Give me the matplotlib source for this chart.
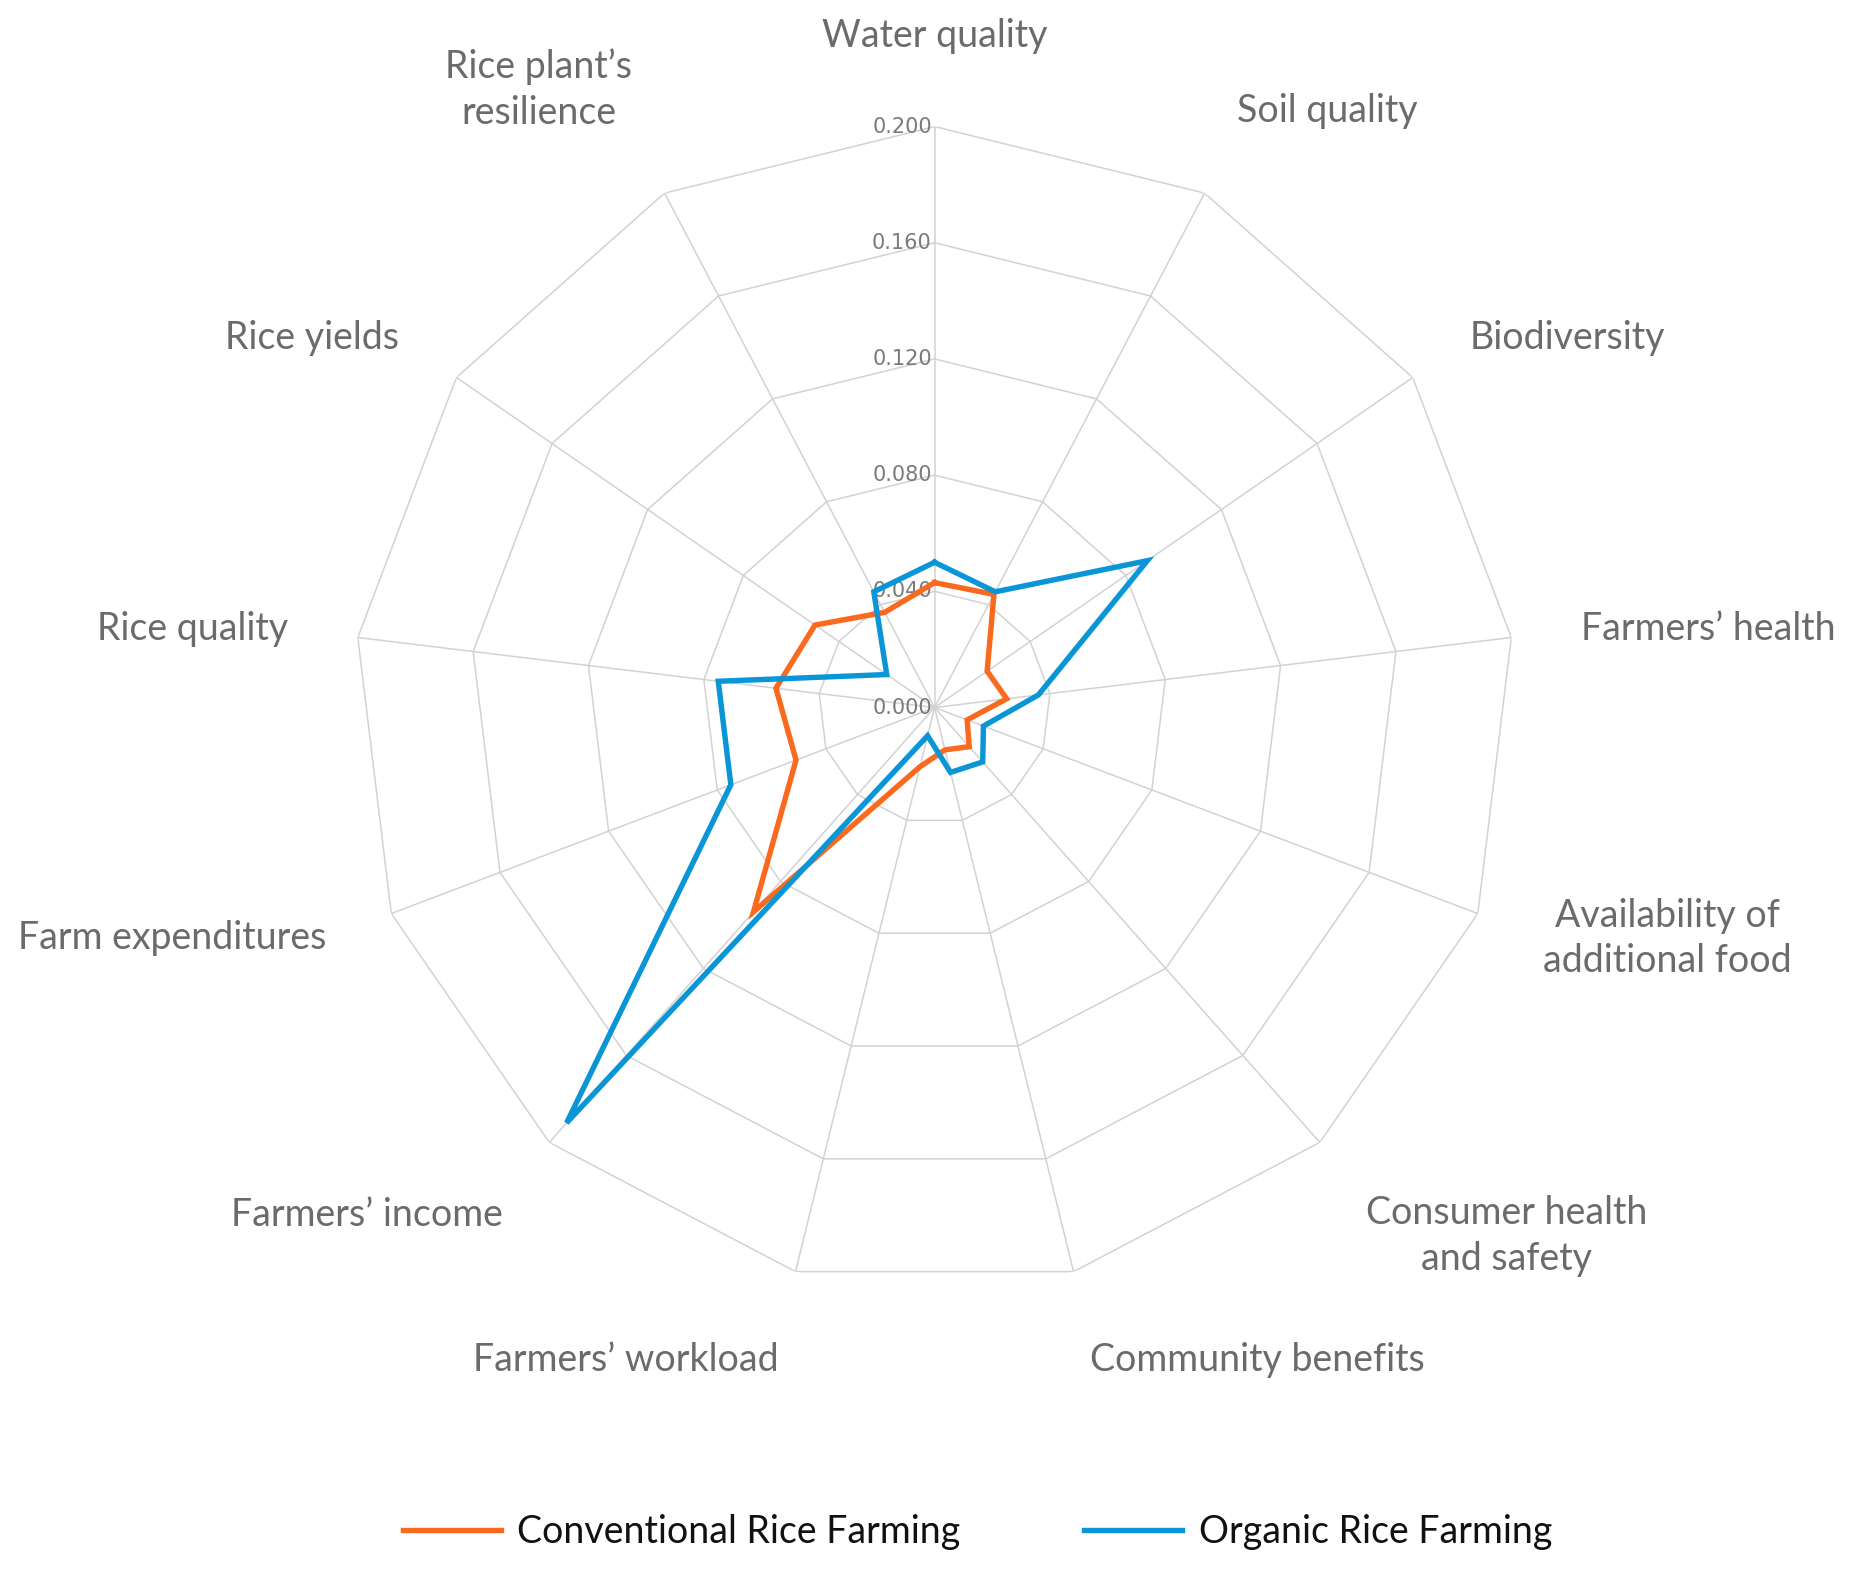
import numpy as np
import matplotlib
matplotlib.use("Agg")
import matplotlib.pyplot as plt

# axis labels, clockwise from the top
categories = ["Water quality", "Soil quality", "Biodiversity", "Farmers\u2019 health",
              "Availability of\nadditional food", "Consumer health\nand safety",
              "Community benefits", "Farmers\u2019 workload", "Farmers\u2019 income",
              "Farm expenditures", "Rice quality", "Rice yields",
              "Rice plant\u2019s\nresilience"]

conventional = [0.043, 0.044, 0.022, 0.025, 0.012, 0.018, 0.015, 0.021,
                0.094, 0.051, 0.055, 0.050, 0.037]
organic = [0.050, 0.045, 0.089, 0.036, 0.018, 0.025, 0.023, 0.010,
           0.191, 0.075, 0.075, 0.020, 0.045]

ticks = [0.0, 0.04, 0.08, 0.12, 0.16, 0.20]
tick_labels = ["0.000", "0.040", "0.080", "0.120", "0.160", "0.200"]

series_names = ["Conventional Rice Farming", "Organic Rice Farming"]
colors = ["#FA6A1E", "#0A96D6"]

plt.rcParams['font.family'] = ['Lato', 'DejaVu Sans']

fig = plt.figure(figsize=(18.55, 15.76), dpi=100)
ax = fig.add_axes([0.1906, 0.1824, 0.6264, 0.7373], projection='polar')
ax.set_theta_zero_location('N')
ax.set_theta_direction(-1)
ax.set_ylim(0, 0.2)
ax.set_xticks([])
ax.set_yticks([])
ax.grid(False)
ax.spines['polar'].set_visible(False)

n = len(categories)
angles = np.linspace(0, 2 * np.pi, n, endpoint=False)
closed = np.append(angles, angles[0])

# polygon grid
for t in ticks[1:]:
    ax.plot(closed, [t] * (n + 1), color='#d2d2d2', lw=1.1, zorder=1)
for a in angles:
    ax.plot([a, a], [0, ticks[-1]], color='#d2d2d2', lw=1.1, zorder=1)

# radial tick labels along the first spoke
for t, lab in zip(ticks, tick_labels):
    ax.annotate(lab, xy=(0, t), xytext=(-2, 0), textcoords='offset points',
                ha='right', va='center', fontsize=15, color='#7a7a7a',
                family='DejaVu Sans', zorder=2)

# data
for vals, name, c in zip([conventional, organic], series_names, colors):
    ax.plot(closed, list(vals) + [vals[0]], color=c, lw=3.9, label=name,
            solid_joinstyle='miter', zorder=3)

# category labels
for a, lab in zip(angles, categories):
    s, co = np.sin(a), np.cos(a)
    if abs(s) < 0.05:
        ha = 'center'
    elif s > 0:
        ha = 'left'
    else:
        ha = 'right'
    h = 30 if '\n' in lab else 15
    f = 1.0 if abs(co) > 0.7 else 0.0
    ax.annotate(lab, xy=(a, 0.224), xytext=(0, np.sign(co) * f * h),
                textcoords='offset points', ha=ha, va='center',
                multialignment='center', fontsize=27, color='#6b6b6b',
                annotation_clip=False, linespacing=1.33)

fig.legend(loc='center', bbox_to_anchor=(0.527, 0.028), ncol=2, frameon=False,
           fontsize=27, handlelength=2.6, handletextpad=0.45, columnspacing=3.3,
           labelcolor='#111111')

fig.savefig('out.png', dpi=100, facecolor='white')
